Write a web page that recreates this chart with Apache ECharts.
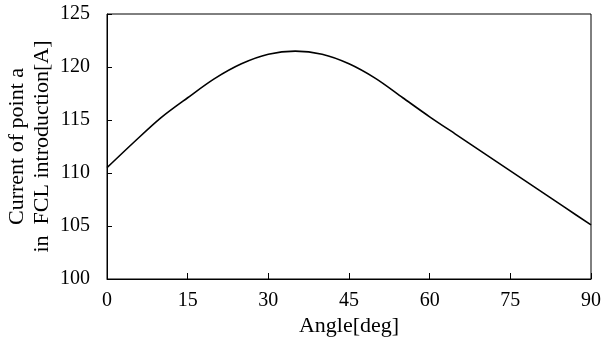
<!DOCTYPE html>
<html>
<head>
<meta charset="utf-8">
<script src="https://cdn.jsdelivr.net/npm/echarts@6/dist/echarts.min.js"></script>
<style>
html, body { margin: 0; padding: 0; background: #fff; }
#chart { width: 603px; height: 354px; }
</style>
</head>
<body>
<div id="chart"></div>
<script>
// angle [deg] and current [A]
var angles = [0, 5, 10, 15, 20, 25, 30, 35, 40, 45, 50, 55, 60, 65, 70, 75, 80, 85, 90];
var current = [110.5, 112.9, 115.2, 117.1, 118.9, 120.3, 121.2, 121.5, 121.2, 120.3,
	118.9, 117.1, 115.3, 113.6, 111.9, 110.2, 108.5, 106.8, 105.1];
var xTicks = [0, 15, 30, 45, 60, 75, 90];
var yTicks = [100, 105, 110, 115, 120, 125];

var points = [];
for (var i = 0; i < angles.length; i++) {
	points.push([angles[i], current[i]]);
}

var font = '"Liberation Serif", "Times New Roman", serif';
var myChart = echarts.init(document.getElementById('chart'));
var option = {
	animation : false,
	backgroundColor : '#fff',
	grid : {
		left : 107,
		right : 12,
		top : 14,
		bottom : 75,
		containLabel : false,
		outerBoundsMode : 'none',
		show : true,
		borderColor : '#000',
		borderWidth : 1
	},
	xAxis : {
		type : 'value',
		min : xTicks[0],
		max : xTicks[xTicks.length - 1],
		interval : 15,
		name : 'Angle[deg]',
		nameLocation : 'middle',
		nameGap : 36,
		nameMoveOverlap : false,
		nameTextStyle : { fontFamily : font, fontSize : 22, color : '#000' },
		axisLine : { lineStyle : { color : '#000', width : 1 } },
		axisTick : { inside : true, length : 6, lineStyle : { color : '#000' } },
		axisLabel : { fontFamily : font, fontSize : 20, color : '#000', margin : 12 },
		splitLine : { show : false }
	},
	yAxis : {
		type : 'value',
		min : yTicks[0],
		max : yTicks[yTicks.length - 1],
		interval : 5,
		name : 'Current of point a\nin  FCL introduction[A]',
		nameLocation : 'middle',
		nameGap : 52,
		nameMoveOverlap : false,
		nameTextStyle : { fontFamily : font, fontSize : 22, color : '#000', lineHeight : 25 },
		axisLine : { lineStyle : { color : '#000', width : 1 } },
		axisTick : { inside : true, length : 5, lineStyle : { color : '#000' } },
		axisLabel : { fontFamily : font, fontSize : 20, color : '#000', margin : 17 },
		splitLine : { show : false }
	},
	series : [ {
		type : 'line',
		data : points,
		smooth : 0.3,
		showSymbol : false,
		lineStyle : { color : '#000', width : 1.6 }
	} ]
};
myChart.setOption(option);
</script>
</body>
</html>
